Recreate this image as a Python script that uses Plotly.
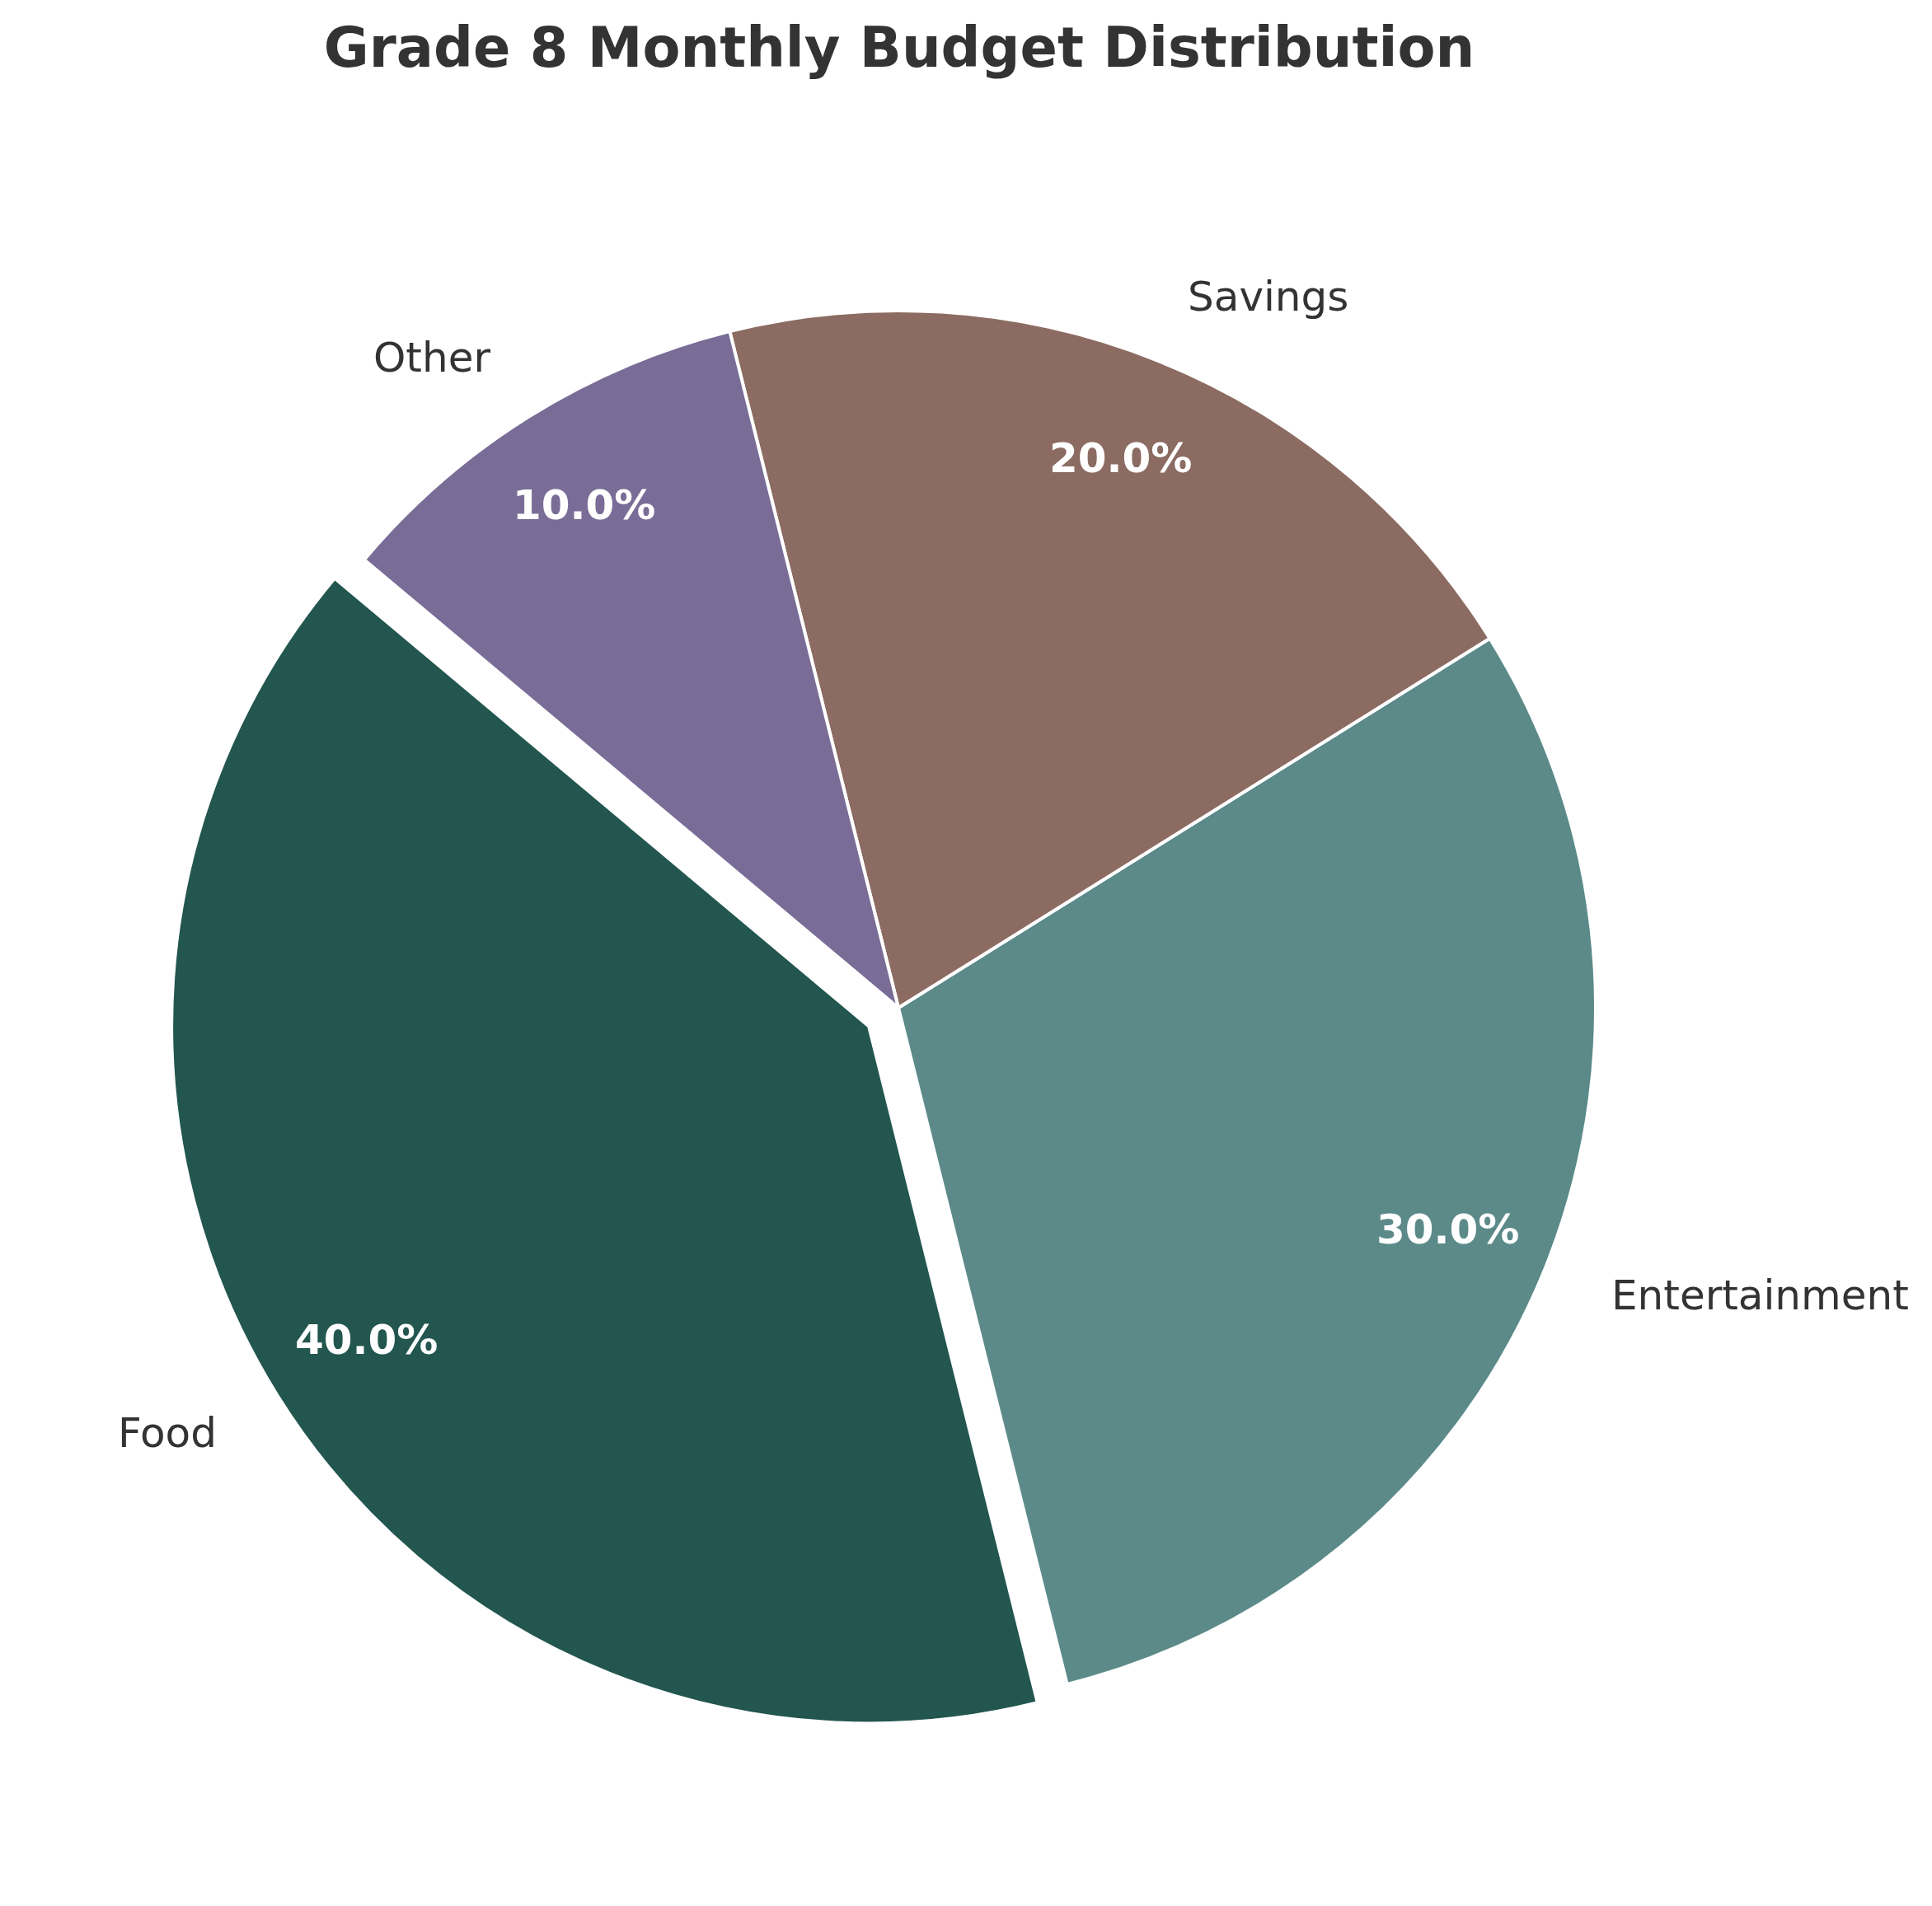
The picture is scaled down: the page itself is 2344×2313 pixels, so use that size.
import math
import plotly.graph_objects as go

categories = ["Food", "Entertainment", "Savings", "Other"]
shares = [40, 30, 20, 10]
colors = ["#22564F", "#5B8A89", "#8B6B62", "#796D97"]
explode = [0.05, 0, 0, 0]

W, H = 2344, 2313
cx, cy, r = 1082, 1215, 846   # pie centre (px from top-left) and radius
start = 140                    # first slice starts at 140 deg (math angle)

total = sum(shares)
half = r * (1 + max(explode))
fig = go.Figure()
fig.add_trace(go.Pie(
    labels=categories,
    values=shares,
    sort=False,
    direction="counterclockwise",
    # plotly anchors the end of the first ccw slice at the rotation angle
    rotation=(90 - start) - 360 * shares[0] / total,
    pull=explode,
    marker=dict(colors=colors, line=dict(color="white", width=4)),
    textinfo="none",
    hoverinfo="label+percent",
    showlegend=False,
    domain=dict(x=[(cx - half) / W, (cx + half) / W],
                y=[(H - cy - half) / H, (H - cy + half) / H]),
))

# labels at 1.1 r and percentages at 0.85 r, along each slice's mid angle
annotations = []
cum = 0
for name, v, ex in zip(categories, shares, explode):
    mid = math.radians(start + 360 * (cum + v / 2) / total)
    cum += v
    ox = cx + ex * r * math.cos(mid)
    oy = cy - ex * r * math.sin(mid)
    lx = ox + 1.1 * r * math.cos(mid)
    ly = oy - 1.1 * r * math.sin(mid)
    annotations.append(dict(
        x=lx / W, y=1 - ly / H, xref="paper", yref="paper",
        text=name, showarrow=False,
        xanchor="left" if math.cos(mid) > 0 else "right", yanchor="middle",
        font=dict(family="DejaVu Sans", size=50, color="#333333"),
    ))
    px = ox + 0.85 * r * math.cos(mid)
    py = oy - 0.85 * r * math.sin(mid)
    annotations.append(dict(
        x=px / W, y=1 - py / H, xref="paper", yref="paper",
        text="<b>%.1f%%</b>" % (100 * v / total), showarrow=False,
        xanchor="center", yanchor="middle",
        font=dict(family="DejaVu Sans", size=50, color="white"),
    ))

fig.update_layout(
    width=W, height=H,
    margin=dict(l=0, r=0, t=0, b=0),
    paper_bgcolor="white",
    plot_bgcolor="white",
    title=dict(
        text="<b>Grade 8 Monthly Budget Distribution</b>",
        x=1083 / W, xanchor="center",
        y=1 - 50 / H, yanchor="middle",
        font=dict(family="DejaVu Sans", size=67, color="#333333"),
    ),
    annotations=annotations,
)

fig.write_html("out.html")
